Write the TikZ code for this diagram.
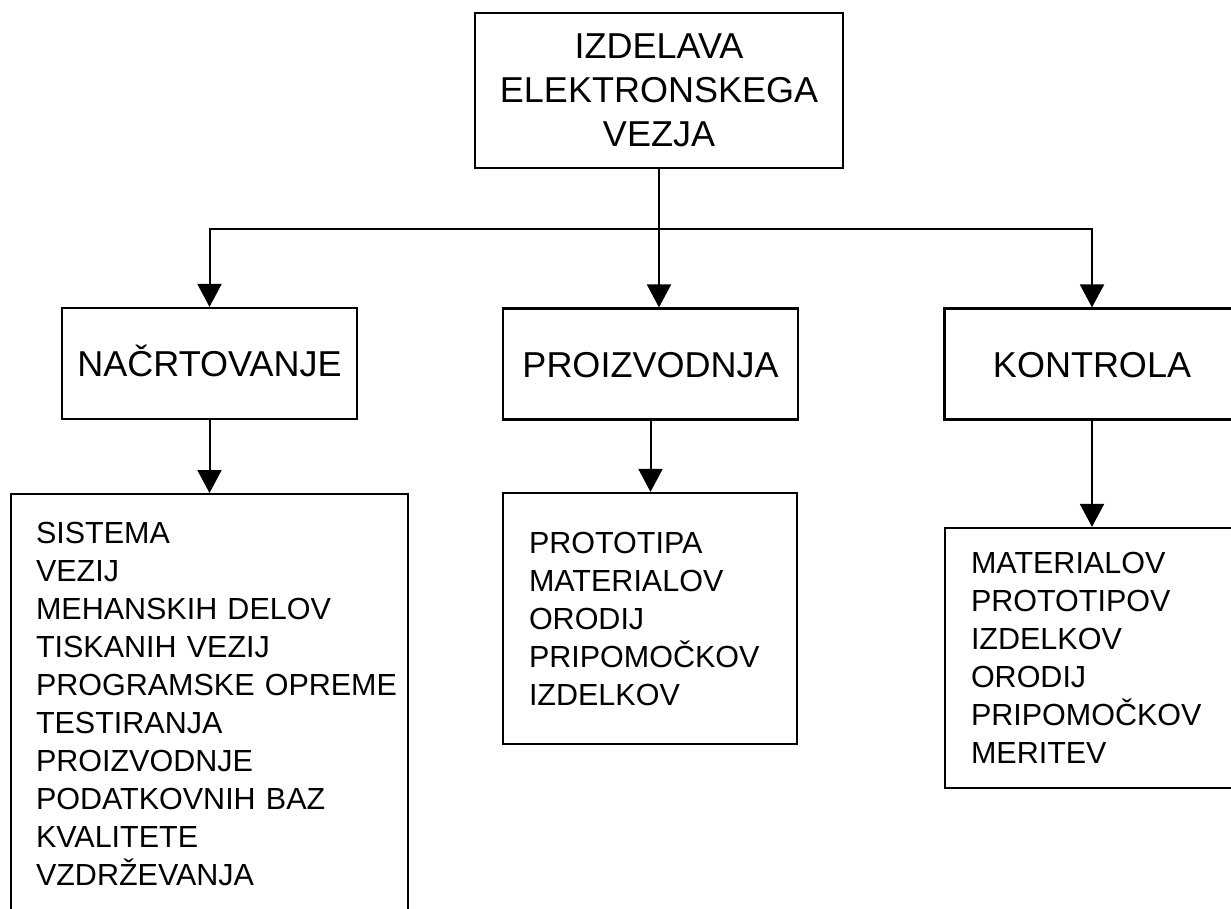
\documentclass[tikz,border=0pt]{standalone}
\usepackage{fontspec}
\setmainfont{Liberation Sans}
\usetikzlibrary{arrows.meta}
\tikzset{okvir/.style={draw, line width=2.2pt, inner sep=0, align=center, font=\fontsize{36}{44}\selectfont}}
\tikzset{raven/.style={okvir, minimum width=295pt, minimum height=111pt, text height=26pt, text depth=0pt}}
\tikzset{seznam/.style={draw, line width=2.2pt, align=left, inner xsep=26pt, inner ysep=0pt, text width=242pt, minimum height=251pt, font=\fontsize{30.5}{38}\selectfont}}
\tikzset{puscica/.style={line width=2pt, -{Triangle[length=23pt, width=24pt]}}}

\begin{document}
\begin{tikzpicture}[x=1pt, y=-1pt]
    \clip (0,0) rectangle (1231,909);
    \node[okvir, minimum width=368pt, minimum height=155pt](vezje) at (659, 90.5) {IZDELAVA\\ELEKTRONSKEGA\\VEZJA};

    \node[raven](nacrt) at (209.5, 363.5) {NAČRTOVANJE};
    \node[raven](proiz) at (650.5, 364) {PROIZVODNJA};
    \node[raven](kontr) at (1092, 364) {KONTROLA};

    \node[seznam, anchor=north, text width=347pt, inner xsep=25pt, minimum height=420pt](snacrt) at (209.5, 493)
      {SISTEMA\\VEZIJ\\MEHANSKIH DELOV\\TISKANIH VEZIJ\\PROGRAMSKE~OPREME\\TESTIRANJA\\PROIZVODNJE\\PODATKOVNIH BAZ\\KVALITETE\\VZDRŽEVANJA};
    \node[seznam](sproiz) at (650, 618.5)
      {PROTOTIPA\\MATERIALOV\\ORODIJ\\PRIPOMOČKOV\\IZDELKOV};
    \node[seznam, minimum height=260pt](skontr) at (1092, 658)
      {MATERIALOV\\PROTOTIPOV\\IZDELKOV\\ORODIJ\\PRIPOMOČKOV\\MERITEV};

    \coordinate (razcep) at (659, 229);
    \draw[line width=2pt] (vezje.south) -- (razcep);
    \draw[puscica] (razcep) -- (razcep |- proiz.north);
    \foreach \c in {nacrt,kontr}
    {
      \draw[puscica] (razcep) -| (\c.north);
    }
    \foreach \a/\b in {nacrt/snacrt,proiz/sproiz,kontr/skontr}
    {
      \draw[puscica] (\a.south) -- (\a.south |- \b.north);
    }
  \end{tikzpicture}
\end{document}
